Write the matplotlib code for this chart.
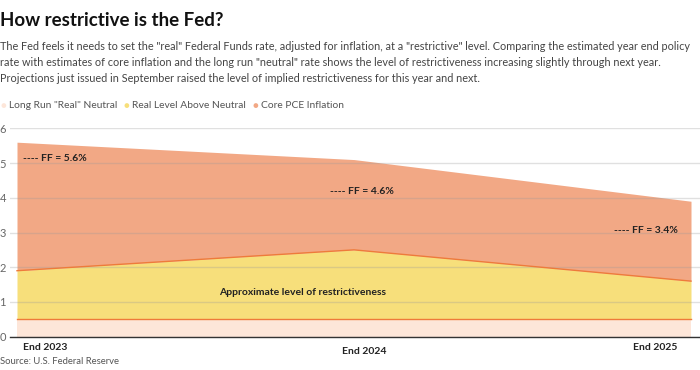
import matplotlib.pyplot as plt

periods = ["End 2023", "End 2024", "End 2025"]
neutral = [0.5, 0.5, 0.5]
above_neutral = [1.4, 2.0, 1.1]
core_pce = [3.7, 2.6, 2.3]
ff_labels = ["---- FF = 5.6%", "---- FF = 4.6%", "---- FF = 3.4%"]
legend_names = ['Long Run "Real" Neutral', "Real Level Above Neutral", "Core PCE Inflation"]

c_neutral = "#fde6d9"
c_above = "#f7df7b"
c_pce = "#f2a885"
c_edge = "#ee7b3a"

plt.rcParams["font.family"] = ["Lato", "DejaVu Sans"]

fig = plt.figure(figsize=(7, 3.7), dpi=100)
ax = fig.add_axes([10 / 700, 1 - 336.7 / 370, 690 / 700, (336.7 - 128.3) / 370])

x = list(range(len(periods)))
lvl1 = neutral
lvl2 = [a + b for a, b in zip(lvl1, above_neutral)]
lvl3 = [a + b for a, b in zip(lvl2, core_pce)]

ax.fill_between(x, 0, lvl1, color=c_neutral, lw=0, zorder=1)
ax.fill_between(x, lvl1, lvl2, color=c_above, lw=0, zorder=1)
ax.fill_between(x, lvl2, lvl3, color=c_pce, lw=0, zorder=1)
ax.plot(x, lvl1, color=c_edge, lw=1, zorder=3)
ax.plot(x, lvl2, color=c_edge, lw=1, zorder=3)

ax.set_xlim(-7 / 337, 2 + 9 / 337)
ax.set_ylim(0, 6)
ax.set_yticks(range(0, 7))
ax.grid(axis="y", color="#999999", alpha=0.3, lw=1, zorder=2)
ax.set_axisbelow(False)
ax.tick_params(axis="y", length=0, pad=3, labelsize=8, labelcolor="#666666")
ax.set_xticks([])
for s in ["top", "right", "left"]:
    ax.spines[s].set_visible(False)
ax.spines["bottom"].set_color("#333333")
ax.spines["bottom"].set_linewidth(1)
ax.spines["bottom"].set_zorder(4)

# FF annotations
ax.text(0.018, 5.12, ff_labels[0], fontsize=7.5, fontweight="bold", color="#222222", ha="left", va="center", zorder=5)
ax.text(0.93, 4.17, ff_labels[1], fontsize=7.5, fontweight="bold", color="#222222", ha="left", va="center", zorder=5)
ax.text(1.96, 3.06, ff_labels[2], fontsize=7.5, fontweight="bold", color="#222222", ha="right", va="center", zorder=5)
ax.text(0.6, 1.27, "Approximate level of restrictiveness", fontsize=7.5, fontweight="bold",
        color="#222222", ha="left", va="center", zorder=5)

# x labels
ax.text(0.018, -0.32, periods[0], fontsize=7.5, fontweight="bold", color="#222222", ha="left", va="center", clip_on=False)
ax.text(1.03, -0.43, periods[1], fontsize=7.5, fontweight="bold", color="#222222", ha="center", va="center", clip_on=False)
ax.text(1.96, -0.32, periods[2], fontsize=7.5, fontweight="bold", color="#222222", ha="right", va="center", clip_on=False)

fig.text(0.0, 1 - 20 / 370, "How restrictive is the Fed?", fontsize=13.5, fontweight="bold", color="#111111", va="center")
subtitle = ('The Fed feels it needs to set the "real" Federal Funds rate, adjusted for inflation, at a "restrictive" level. Comparing the estimated year end policy\n'
            'rate with estimates of core inflation and the long run "neutral" rate shows the level of restrictiveness increasing slightly through next year.\n'
            'Projections just issued in September raised the level of implied restrictiveness for this year and next.')
fig.text(0.0, 1 - 41 / 370, subtitle, fontsize=7.8, color="#444444", va="top", linespacing=1.55)

# legend laid out left to right by measured text width
renderer = fig.canvas.get_renderer()
px = 3
for name, col in zip(legend_names, [c_neutral, c_above, c_pce]):
    fig.text(px / 700, 1 - 106 / 370, "\u25cf", fontsize=7, color=col, va="center", ha="center")
    t = fig.text((px + 6) / 700, 1 - 106 / 370, name, fontsize=7.4, color="#555555", va="center")
    w = t.get_window_extent(renderer).width
    px = px + 6 + w + 9

fig.text(0.0, 1 - 362 / 370, "Source: U.S. Federal Reserve", fontsize=6.8, color="#555555", va="center")

fig.savefig("out.png", dpi=100)
